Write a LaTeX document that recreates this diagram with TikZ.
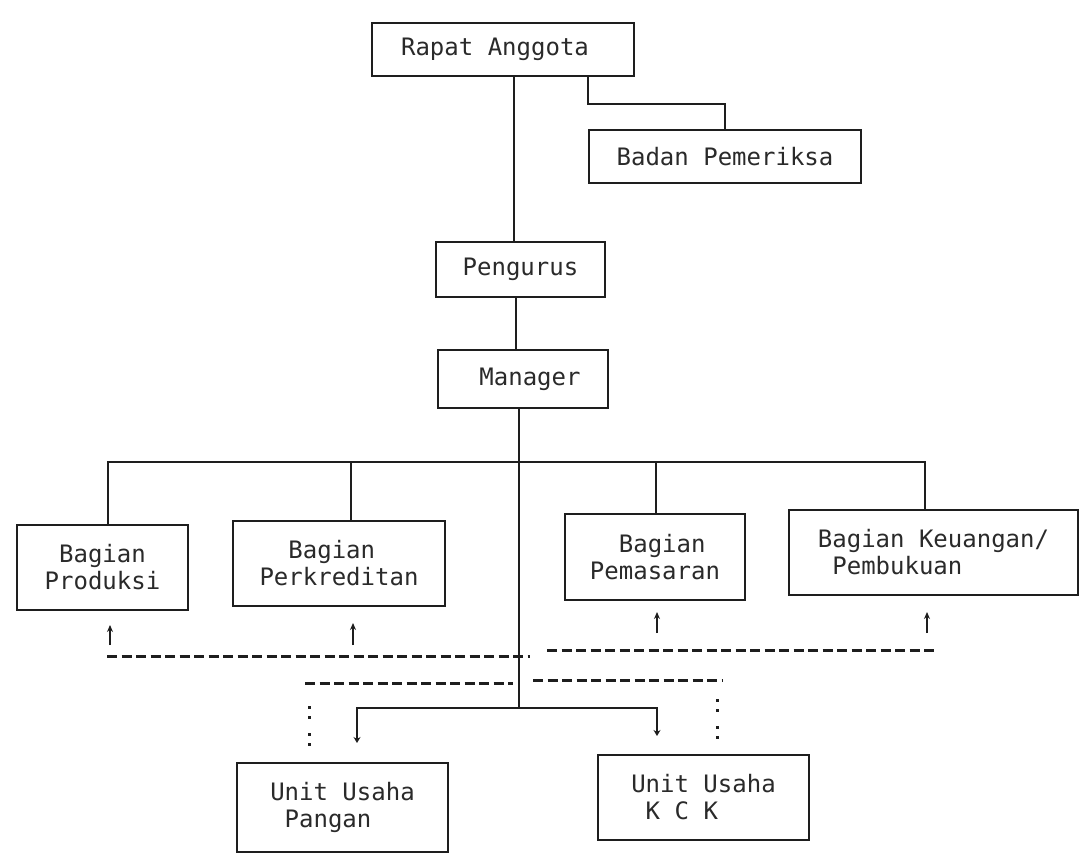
\documentclass[tikz,border=0pt]{standalone}
\usepackage{fontspec}
\newfontfamily\dm{DejaVu Sans Mono}
\usetikzlibrary{arrows.meta,calc}
\definecolor{ink}{HTML}{1E1E1E}
\definecolor{txt}{HTML}{2A2A2A}
\begin{document}
\begin{tikzpicture}[x=1pt,y=-1pt,
  box/.style={draw=ink, line width=1.8pt, inner sep=0pt, text=txt,
    font=\dm\fontsize{24}{27}\selectfont},
  conn/.style={draw=ink, line width=1.7pt},
  dsh/.style={draw=ink, line width=3pt, dash pattern=on 10pt off 4.5pt},
  dts/.style={draw=ink, line width=3pt, dash pattern=on 3pt off 7pt on 3pt off 14pt},
  uparr/.style={draw=ink, line width=1.4pt, -{Stealth[length=7pt,width=6pt]}},
  dnarr/.style={draw=ink, line width=1.7pt, -{Stealth[length=6pt,width=7pt]}}]
\fill[white] (0,0) rectangle (1088,864);
\useasboundingbox (0,0) rectangle (1088,864);

% boxes
\node[box, minimum width=262pt, minimum height=53pt, align=center] (ra) at (503,49.5) {Rapat Anggota\hspace*{16pt}};
\node[box, minimum width=272pt, minimum height=53pt, align=center] (bp) at (725,156.5) {Badan Pemeriksa};
\node[box, minimum width=169pt, minimum height=55pt, align=center] (pg) at (520.5,269.5) {Pengurus};
\node[box, minimum width=170pt, minimum height=58pt, align=center] (mg) at (523,379) {\hspace*{14pt}Manager};
\node[box, minimum width=171pt, minimum height=85pt, align=center] (b1) at (102.5,567.5) {Bagian\\Produksi};
\node[box, minimum width=212pt, minimum height=85pt, align=left] (b2) at (339,563.5) {\phantom{xx}Bagian\\Perkreditan};
\node[box, minimum width=180pt, minimum height=86pt, align=left] (b3) at (655,557) {\phantom{xx}Bagian\\Pemasaran};
\node[box, minimum width=289pt, minimum height=85pt, align=left] (b4) at (933.5,552.5) {Bagian Keuangan/\\\phantom{x}Pembukuan};
\node[box, minimum width=211pt, minimum height=89pt, align=left] (u1) at (342.5,807.5) {Unit Usaha\\\phantom{x}Pangan};
\node[box, minimum width=211pt, minimum height=85pt, align=left] (u2) at (703.5,797.5) {Unit Usaha\\\phantom{x}K C K};

% trunk
\coordinate (tA) at (514,0);
\coordinate (tB) at (516,0);
\coordinate (j) at (519,708);
\draw[conn] (ra.south -| tA) -- (pg.north -| tA);
\draw[conn] (pg.south -| tB) -- (mg.north -| tB);
\draw[conn] (mg.south -| j) -- (j);

% Rapat -> Badan Pemeriksa
\draw[conn] (ra.south -| bp.west) -- ++(0,27) -| (bp.north);

% bar to the four sections
\coordinate (bl) at (108,462);
\coordinate (br) at (925,462);
\coordinate (d2) at (351,462);
\coordinate (d3) at (656,462);
\draw[conn] (b1.north -| bl) -- (bl) -- (br) -- (b4.north -| br);
\draw[conn] (d2) -- (b2.north -| d2);
\draw[conn] (d3) -- (b3.north -| d3);

% small up arrows
\coordinate (a1s) at (110,645); \coordinate (a1e) at (110,625);
\coordinate (a2s) at (353,645); \coordinate (a2e) at (353,623);
\coordinate (a3s) at (657,633); \coordinate (a3e) at (657,612);
\coordinate (a4s) at (927,633); \coordinate (a4e) at (927,612);
\draw[uparr] (a1s) -- (a1e);
\draw[uparr] (a2s) -- (a2e);
\draw[uparr] (a3s) -- (a3e);
\draw[uparr] (a4s) -- (a4e);

% dashed lines
\draw[dsh] (107,656) -- (530,656);
\draw[dsh] (547,650) -- (934,650);
\draw[dsh] (305,683) -- (513,683);
\draw[dsh] (533,680) -- (723,680);

% lower branches
\coordinate (e1) at (357,743);
\coordinate (e2) at (657,736);
\draw[dnarr] (j) -| (e1);
\draw[dnarr] (j) -| (e2);

% dotted marks
\draw[dts] (309,706) -- (309,748);
\draw[dts] (717,699) -- (717,740);
\end{tikzpicture}
\end{document}
